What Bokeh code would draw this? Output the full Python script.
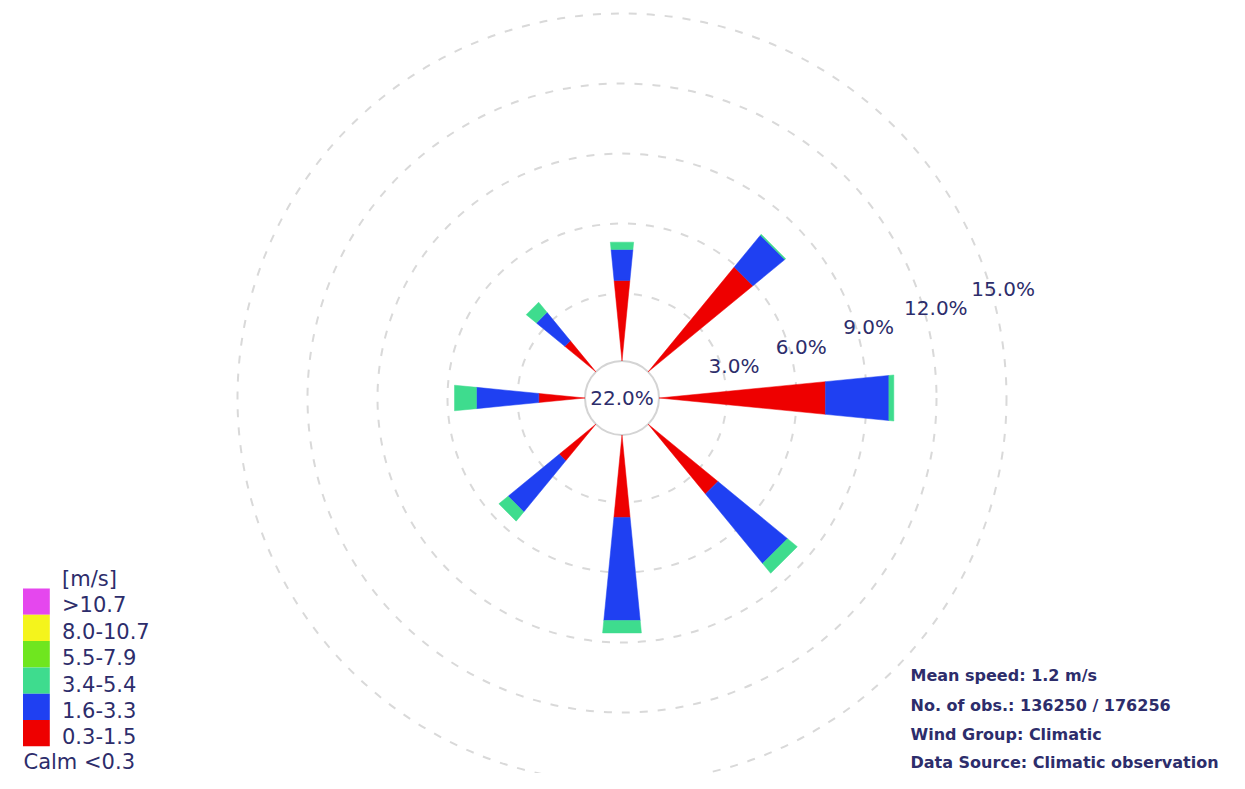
import numpy as np
from bokeh.plotting import figure
from bokeh.models import Range1d
from bokeh.core.properties import value
from bokeh.embed import file_html
from bokeh.resources import INLINE

# ---------------- data ----------------
directions = ["N", "NE", "E", "SE", "S", "SW", "W", "NW"]
bearings = [0, 45, 90, 135, 180, 225, 270, 315]
band_names = ["0.3-1.5", "1.6-3.3", "3.4-5.4"]
band_colors = ["#ee0000", "#1f40f2", "#3edc8e"]
red_vals = [3.56, 5.89, 7.24, 3.96, 3.64, 2.13, 2.09, 1.82]
blue_vals = [1.33, 1.76, 2.72, 3.84, 4.42, 2.82, 2.67, 1.57]
teal_vals = [0.31, 0.05, 0.21, 0.54, 0.53, 0.51, 0.94, 0.56]
calm_label = "22.0%"
ring_levels = [3, 6, 9, 12, 15]
ring_labels = ["3.0%", "6.0%", "9.0%", "12.0%", "15.0%"]
legend_title = "[m/s]"
legend_labels = [">10.7", "8.0-10.7", "5.5-7.9", "3.4-5.4", "1.6-3.3", "0.3-1.5"]
legend_colors = ["#e547ee", "#f4f41c", "#6fe61f", "#3edc8e", "#1f40f2", "#ee0000"]
calm_text = "Calm <0.3"
info_lines = ["Mean speed: 1.2 m/s", "No. of obs.: 136250 / 176256",
              "Wind Group: Climatic", "Data Source: Climatic observation"]

# ---------------- geometry ----------------
W, H = 1229, 773
CX, CY = 621.5, 397.5          # centre in picture pixels
S = 70.0 / 3.0                 # pixels per percent
R_OFF = 34.5 / S               # ring offset (percent units)
CALM_R = 37.0 / S              # calm circle radius
HALF = np.radians(5.6)         # half opening of wedges
TXT = "#2d2d6b"
FONT = value("DejaVu Sans")

def sx(px):
    return (px - CX) / S

def sy(py):
    return (CY - py) / S

p = figure(width=W, height=H, output_backend="svg", toolbar_location=None,
           x_range=Range1d(-CX / S, (W - CX) / S), y_range=Range1d(-(H - CY) / S, CY / S),
           x_axis_location=None, y_axis_location=None, min_border=0,
           outline_line_color=None, background_fill_color="white")
p.grid.visible = False

# rings
ring_r = [R_OFF + v for v in ring_levels]
p.circle(x=[0] * len(ring_r), y=[0] * len(ring_r), radius=ring_r, fill_color=None,
         line_color="#d9d9d9", line_width=2, line_dash="8 10")
p.circle(x=[0], y=[0], radius=[CALM_R], fill_color=None, line_color="#d4d4d4", line_width=2)

# wedges
xs, ys, cols = [], [], []
t = np.tan(HALF)
for i, b in enumerate(bearings):
    ang = np.radians(90 - b)
    u = np.array([np.cos(ang), np.sin(ang)])
    n = np.array([-np.sin(ang), np.cos(ang)])
    vals = [red_vals[i], blue_vals[i], teal_vals[i]]
    cum = 0.0
    for k, v in enumerate(vals):
        d1 = max(R_OFF + cum, CALM_R)
        d2 = R_OFF + cum + v
        cum += v
        w1 = (d1 - CALM_R) * t
        w2 = (d2 - CALM_R) * t
        pts = [u * d1 + n * w1, u * d2 + n * w2, u * d2 - n * w2, u * d1 - n * w1]
        xs.append([q[0] for q in pts])
        ys.append([q[1] for q in pts])
        cols.append(band_colors[k])
p.patches(xs=xs, ys=ys, fill_color=cols, line_color=cols, line_width=0.5)

# ring labels
la = np.radians(16)
lr = [R_OFF + v + 12.0 / S for v in ring_levels]
p.text(x=[r * np.cos(la) for r in lr], y=[r * np.sin(la) for r in lr], text=ring_labels,
       text_font=FONT, text_font_size="20px", text_color=TXT,
       text_align="center", text_baseline="middle")
p.text(x=[0], y=[0], text=[calm_label], text_font=FONT, text_font_size="20px",
       text_color=TXT, text_align="center", text_baseline="middle")

# legend
top, step = 588.0, 26.3
lx0, lx1 = sx(22.5), sx(49.3)
for j, c in enumerate(legend_colors):
    y0 = top + j * step
    p.quad(left=[lx0], right=[lx1], top=[sy(y0)], bottom=[sy(y0 + step)],
           fill_color=c, line_color=None)
p.text(x=[sx(61.5)], y=[sy(578)], text=[legend_title], text_font=FONT,
       text_font_size="21px", text_color=TXT, text_baseline="middle")
p.text(x=[sx(61.5)] * len(legend_labels),
       y=[sy(top + (j + 0.5) * step + 3.0) for j in range(len(legend_labels))],
       text=legend_labels, text_font=FONT, text_font_size="21px", text_color=TXT,
       text_baseline="middle")
p.text(x=[sx(23)], y=[sy(761)], text=[calm_text], text_font=FONT,
       text_font_size="21px", text_color=TXT, text_baseline="middle")

# info block
iy = [675, 704.5, 733.5, 762]
p.text(x=[sx(910)] * len(info_lines), y=[sy(v) for v in iy], text=info_lines,
       text_font=FONT, text_font_size="16px", text_font_style="bold", text_color=TXT,
       text_baseline="middle")

open("out.html", "w").write(file_html(p, INLINE))
